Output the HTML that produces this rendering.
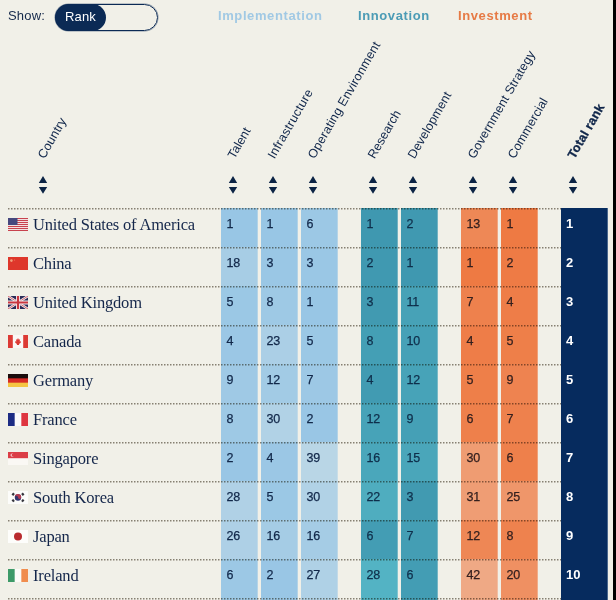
<!DOCTYPE html>
<html><head><meta charset="utf-8"><title>AI Index</title>
<style>
html,body{margin:0;padding:0}
body{width:616px;height:600px;overflow:hidden;background:#f1f0e8;position:relative;font-family:"Liberation Sans",sans-serif;color:#0b2a55}
.edge{position:absolute;left:613px;top:0;width:3px;height:600px;background:#000}
.show{position:absolute;left:8px;top:8px;font-size:13px;line-height:16px;letter-spacing:.2px;color:#15294a}
.toggle{position:absolute;left:55px;top:4px;width:101px;height:25px;border:1px solid #0b2a55;border-radius:14px;box-shadow:0 0 0 .5px rgba(11,42,85,.45)}
.pill{position:absolute;left:55px;top:4px;width:51px;height:27px;border-radius:13.5px;background:#0b2a55;color:#fff;font-size:13px;line-height:26px;text-align:center;letter-spacing:.2px}
.grp{position:absolute;top:9px;font-size:13px;line-height:14px;font-weight:bold;letter-spacing:.6px}
.hl{position:absolute;white-space:nowrap;color:#10264a;font-size:12.5px;line-height:14px;transform-origin:0 100%;transform:rotate(-60deg)}
.sort{position:absolute;width:8px;height:18px;overflow:visible}
.cell{position:absolute;width:37px;font-size:12.5px;line-height:16px;letter-spacing:-.3px}
.cell span{position:absolute;left:5.5px;top:8px;-webkit-text-stroke:.25px #0b2a55}
.flag{position:absolute;left:8px;width:20px;height:13px;overflow:hidden}
.flag svg{display:block;width:20px;height:13px}
.name{position:absolute;left:33px;font-family:"Liberation Serif",serif;font-size:16.5px;line-height:20px;white-space:nowrap;color:#14264a;letter-spacing:-.18px}
.tot{position:absolute;left:561px;width:47px;background:linear-gradient(90deg,#062b5e 46px,#4a678d 46px);color:#fff;font-weight:bold;font-size:13px;line-height:16px}
.tot span{position:absolute;left:5px;top:8px}
.dl{position:absolute;left:8px;width:553px;height:1px;mix-blend-mode:multiply;background:repeating-linear-gradient(90deg,#8d887e 0 1px,#c9c5bd 1px 2px,#fff 2px 3px)}
</style></head><body>
<div class="show">Show:</div>
<div class="toggle"></div><div class="pill">Rank</div>
<div class="grp" style="left:218px;color:#a1c9e4">Implementation</div>
<div class="grp" style="left:358px;color:#4b9bb5">Innovation</div>
<div class="grp" style="left:458px;color:#e67a45">Investment</div>

<div class="hl" style="left:47px;top:147px;letter-spacing:0.15px;">Country</div>
<svg class="sort" style="left:39px;top:176px" viewBox="0 0 8 18"><path d="M4 0L8.2 7H-.2zM4 17.8L-.2 11H8.2z" fill="#0c2445"/></svg>
<div class="hl" style="left:237px;top:147px;letter-spacing:0.00px;">Talent</div>
<svg class="sort" style="left:229px;top:176px" viewBox="0 0 8 18"><path d="M4 0L8.2 7H-.2zM4 17.8L-.2 11H8.2z" fill="#0c2445"/></svg>
<div class="hl" style="left:277px;top:147px;letter-spacing:0.32px;">Infrastructure</div>
<svg class="sort" style="left:269px;top:176px" viewBox="0 0 8 18"><path d="M4 0L8.2 7H-.2zM4 17.8L-.2 11H8.2z" fill="#0c2445"/></svg>
<div class="hl" style="left:317px;top:147px;letter-spacing:0.20px;">Operating Environment</div>
<svg class="sort" style="left:309px;top:176px" viewBox="0 0 8 18"><path d="M4 0L8.2 7H-.2zM4 17.8L-.2 11H8.2z" fill="#0c2445"/></svg>
<div class="hl" style="left:377px;top:147px;letter-spacing:0.00px;">Research</div>
<svg class="sort" style="left:369px;top:176px" viewBox="0 0 8 18"><path d="M4 0L8.2 7H-.2zM4 17.8L-.2 11H8.2z" fill="#0c2445"/></svg>
<div class="hl" style="left:417px;top:147px;letter-spacing:0.10px;">Development</div>
<svg class="sort" style="left:409px;top:176px" viewBox="0 0 8 18"><path d="M4 0L8.2 7H-.2zM4 17.8L-.2 11H8.2z" fill="#0c2445"/></svg>
<div class="hl" style="left:477px;top:147px;letter-spacing:0.17px;">Government Strategy</div>
<svg class="sort" style="left:469px;top:176px" viewBox="0 0 8 18"><path d="M4 0L8.2 7H-.2zM4 17.8L-.2 11H8.2z" fill="#0c2445"/></svg>
<div class="hl" style="left:517px;top:147px;letter-spacing:0.10px;">Commercial</div>
<svg class="sort" style="left:509px;top:176px" viewBox="0 0 8 18"><path d="M4 0L8.2 7H-.2zM4 17.8L-.2 11H8.2z" fill="#0c2445"/></svg>
<div class="hl" style="left:577px;top:147px;letter-spacing:0.20px;font-weight:bold;-webkit-text-stroke:.3px #10264a;">Total rank</div>
<svg class="sort" style="left:569px;top:176px" viewBox="0 0 8 18"><path d="M4 0L8.2 7H-.2zM4 17.8L-.2 11H8.2z" fill="#0c2445"/></svg>
<div class="cell" style="left:221px;top:208px;height:39px;background:linear-gradient(90deg,#98c6e5 36px,#b3d3e6 36px)"><span style="color:#12284a;-webkit-text-stroke-color:#12284a">1</span></div>
<div class="cell" style="left:261px;top:208px;height:39px;background:linear-gradient(90deg,#98c6e5 36px,#b3d3e6 36px)"><span style="color:#12284a;-webkit-text-stroke-color:#12284a">1</span></div>
<div class="cell" style="left:301px;top:208px;height:39px;background:linear-gradient(90deg,#9cc8e5 36px,#b6d4e6 36px)"><span style="color:#12284a;-webkit-text-stroke-color:#12284a">6</span></div>
<div class="cell" style="left:361px;top:208px;height:39px;background:linear-gradient(90deg,#3f98b0 36px,#74b2c1 36px)"><span style="color:#0f2f4b;-webkit-text-stroke-color:#0f2f4b">1</span></div>
<div class="cell" style="left:401px;top:208px;height:39px;background:linear-gradient(90deg,#4099b1 36px,#75b3c2 36px)"><span style="color:#0f2f4b;-webkit-text-stroke-color:#0f2f4b">2</span></div>
<div class="cell" style="left:461px;top:208px;height:39px;background:linear-gradient(90deg,#ee8856 36px,#efa782 36px)"><span style="color:#34201f;-webkit-text-stroke-color:#34201f">13</span></div>
<div class="cell" style="left:501px;top:208px;height:39px;background:linear-gradient(90deg,#ee7a43 36px,#ef9d74 36px)"><span style="color:#34201f;-webkit-text-stroke-color:#34201f">1</span></div>
<div class="tot" style="top:208px;height:39px"><span>1</span></div>
<div class="flag" style="top:218px"><svg viewBox="0 0 20 13"><rect width="20" height="13" fill="#f3dfe0"/><g fill="#c8424e"><rect y="0" width="20" height="1"/><rect y="2" width="20" height="1"/><rect y="4" width="20" height="1"/><rect y="6" width="20" height="1"/><rect y="8" width="20" height="1"/><rect y="10" width="20" height="1"/><rect y="12" width="20" height="1"/></g><rect width="9.5" height="7" fill="#46477e"/></svg></div>
<div class="name" style="top:215px">United States of America</div>
<div class="cell" style="left:221px;top:247px;height:39px;background:linear-gradient(90deg,#a7cde5 36px,#bdd8e6 36px)"><span style="color:#12284a;-webkit-text-stroke-color:#12284a">18</span></div>
<div class="cell" style="left:261px;top:247px;height:39px;background:linear-gradient(90deg,#9ac7e5 36px,#b4d3e6 36px)"><span style="color:#12284a;-webkit-text-stroke-color:#12284a">3</span></div>
<div class="cell" style="left:301px;top:247px;height:39px;background:linear-gradient(90deg,#9ac7e5 36px,#b4d3e6 36px)"><span style="color:#12284a;-webkit-text-stroke-color:#12284a">3</span></div>
<div class="cell" style="left:361px;top:247px;height:39px;background:linear-gradient(90deg,#4099b1 36px,#75b3c2 36px)"><span style="color:#0f2f4b;-webkit-text-stroke-color:#0f2f4b">2</span></div>
<div class="cell" style="left:401px;top:247px;height:39px;background:linear-gradient(90deg,#3f98b0 36px,#74b2c1 36px)"><span style="color:#0f2f4b;-webkit-text-stroke-color:#0f2f4b">1</span></div>
<div class="cell" style="left:461px;top:247px;height:39px;background:linear-gradient(90deg,#ee7a43 36px,#ef9d74 36px)"><span style="color:#34201f;-webkit-text-stroke-color:#34201f">1</span></div>
<div class="cell" style="left:501px;top:247px;height:39px;background:linear-gradient(90deg,#ee7b45 36px,#ef9e76 36px)"><span style="color:#34201f;-webkit-text-stroke-color:#34201f">2</span></div>
<div class="tot" style="top:247px;height:39px"><span>2</span></div>
<div class="flag" style="top:257px"><svg viewBox="0 0 20 13"><rect width="20" height="13" fill="#de372b"/><circle cx="3.4" cy="3.6" r="1.3" fill="#f2a27c"/><circle cx="6.6" cy="3" r=".5" fill="#ee8f6a"/></svg></div>
<div class="name" style="top:254px">China</div>
<div class="cell" style="left:221px;top:286px;height:39px;background:linear-gradient(90deg,#9bc8e5 36px,#b5d4e6 36px)"><span style="color:#12284a;-webkit-text-stroke-color:#12284a">5</span></div>
<div class="cell" style="left:261px;top:286px;height:39px;background:linear-gradient(90deg,#9ec9e5 36px,#b7d5e6 36px)"><span style="color:#12284a;-webkit-text-stroke-color:#12284a">8</span></div>
<div class="cell" style="left:301px;top:286px;height:39px;background:linear-gradient(90deg,#98c6e5 36px,#b3d3e6 36px)"><span style="color:#12284a;-webkit-text-stroke-color:#12284a">1</span></div>
<div class="cell" style="left:361px;top:286px;height:39px;background:linear-gradient(90deg,#419ab1 36px,#76b4c2 36px)"><span style="color:#0f2f4b;-webkit-text-stroke-color:#0f2f4b">3</span></div>
<div class="cell" style="left:401px;top:286px;height:39px;background:linear-gradient(90deg,#47a2b7 36px,#7ab9c6 36px)"><span style="color:#0f2f4b;-webkit-text-stroke-color:#0f2f4b">11</span></div>
<div class="cell" style="left:461px;top:286px;height:39px;background:linear-gradient(90deg,#ee814d 36px,#efa27c 36px)"><span style="color:#34201f;-webkit-text-stroke-color:#34201f">7</span></div>
<div class="cell" style="left:501px;top:286px;height:39px;background:linear-gradient(90deg,#ee7d48 36px,#efa078 36px)"><span style="color:#34201f;-webkit-text-stroke-color:#34201f">4</span></div>
<div class="tot" style="top:286px;height:39px"><span>3</span></div>
<div class="flag" style="top:296px"><svg viewBox="0 0 20 13"><rect width="20" height="13" fill="#2a2c58"/><path d="M0 0L20 13M20 0L0 13" stroke="#f4eef0" stroke-width="2.4"/><path d="M0 0L20 13M20 0L0 13" stroke="#c8404a" stroke-width="0.8"/><path d="M10 0V13M0 6.5H20" stroke="#f4eef0" stroke-width="4"/><path d="M10 0V13M0 6.5H20" stroke="#c8353f" stroke-width="2.2"/></svg></div>
<div class="name" style="top:293px">United Kingdom</div>
<div class="cell" style="left:221px;top:325px;height:39px;background:linear-gradient(90deg,#9bc7e5 36px,#b5d3e6 36px)"><span style="color:#12284a;-webkit-text-stroke-color:#12284a">4</span></div>
<div class="cell" style="left:261px;top:325px;height:39px;background:linear-gradient(90deg,#abcfe6 36px,#c0d9e7 36px)"><span style="color:#12284a;-webkit-text-stroke-color:#12284a">23</span></div>
<div class="cell" style="left:301px;top:325px;height:39px;background:linear-gradient(90deg,#9bc8e5 36px,#b5d4e6 36px)"><span style="color:#12284a;-webkit-text-stroke-color:#12284a">5</span></div>
<div class="cell" style="left:361px;top:325px;height:39px;background:linear-gradient(90deg,#449fb5 36px,#78b7c4 36px)"><span style="color:#0f2f4b;-webkit-text-stroke-color:#0f2f4b">8</span></div>
<div class="cell" style="left:401px;top:325px;height:39px;background:linear-gradient(90deg,#46a1b7 36px,#79b9c6 36px)"><span style="color:#0f2f4b;-webkit-text-stroke-color:#0f2f4b">10</span></div>
<div class="cell" style="left:461px;top:325px;height:39px;background:linear-gradient(90deg,#ee7d48 36px,#efa078 36px)"><span style="color:#34201f;-webkit-text-stroke-color:#34201f">4</span></div>
<div class="cell" style="left:501px;top:325px;height:39px;background:linear-gradient(90deg,#ee7f49 36px,#efa179 36px)"><span style="color:#34201f;-webkit-text-stroke-color:#34201f">5</span></div>
<div class="tot" style="top:325px;height:39px"><span>4</span></div>
<div class="flag" style="top:335px"><svg viewBox="0 0 20 13"><rect width="20" height="13" fill="#fbf7f5"/><rect width="4.8" height="13" fill="#dc3a34"/><rect x="15.2" width="4.8" height="13" fill="#dc3a34"/><path d="M10 3l.9 1.7 1.2-.4-.5 2.2 1.3-.4-.4 1.1.6.3-2.1 1.5.2.9h-2.4l.2-.9-2.1-1.5.6-.3-.4-1.1 1.3.4-.5-2.2 1.2.4z" fill="#dc3a34"/></svg></div>
<div class="name" style="top:332px">Canada</div>
<div class="cell" style="left:221px;top:364px;height:39px;background:linear-gradient(90deg,#9fc9e5 36px,#b8d5e6 36px)"><span style="color:#12284a;-webkit-text-stroke-color:#12284a">9</span></div>
<div class="cell" style="left:261px;top:364px;height:39px;background:linear-gradient(90deg,#a2cbe5 36px,#bad6e6 36px)"><span style="color:#12284a;-webkit-text-stroke-color:#12284a">12</span></div>
<div class="cell" style="left:301px;top:364px;height:39px;background:linear-gradient(90deg,#9dc8e5 36px,#b6d4e6 36px)"><span style="color:#12284a;-webkit-text-stroke-color:#12284a">7</span></div>
<div class="cell" style="left:361px;top:364px;height:39px;background:linear-gradient(90deg,#419bb2 36px,#76b4c2 36px)"><span style="color:#0f2f4b;-webkit-text-stroke-color:#0f2f4b">4</span></div>
<div class="cell" style="left:401px;top:364px;height:39px;background:linear-gradient(90deg,#47a3b8 36px,#7abac6 36px)"><span style="color:#0f2f4b;-webkit-text-stroke-color:#0f2f4b">12</span></div>
<div class="cell" style="left:461px;top:364px;height:39px;background:linear-gradient(90deg,#ee7f49 36px,#efa179 36px)"><span style="color:#34201f;-webkit-text-stroke-color:#34201f">5</span></div>
<div class="cell" style="left:501px;top:364px;height:39px;background:linear-gradient(90deg,#ee8350 36px,#efa47e 36px)"><span style="color:#34201f;-webkit-text-stroke-color:#34201f">9</span></div>
<div class="tot" style="top:364px;height:39px"><span>5</span></div>
<div class="flag" style="top:374px"><svg viewBox="0 0 20 13"><rect width="20" height="13" fill="#f5c542"/><rect width="20" height="8.67" fill="#d62a25"/><rect width="20" height="4.33" fill="#1a0c0c"/></svg></div>
<div class="name" style="top:371px">Germany</div>
<div class="cell" style="left:221px;top:403px;height:39px;background:linear-gradient(90deg,#9ec9e5 36px,#b7d5e6 36px)"><span style="color:#12284a;-webkit-text-stroke-color:#12284a">8</span></div>
<div class="cell" style="left:261px;top:403px;height:39px;background:linear-gradient(90deg,#b1d2e6 36px,#c4dbe7 36px)"><span style="color:#12284a;-webkit-text-stroke-color:#12284a">30</span></div>
<div class="cell" style="left:301px;top:403px;height:39px;background:linear-gradient(90deg,#99c6e5 36px,#b3d3e6 36px)"><span style="color:#12284a;-webkit-text-stroke-color:#12284a">2</span></div>
<div class="cell" style="left:361px;top:403px;height:39px;background:linear-gradient(90deg,#47a3b8 36px,#7abac6 36px)"><span style="color:#0f2f4b;-webkit-text-stroke-color:#0f2f4b">12</span></div>
<div class="cell" style="left:401px;top:403px;height:39px;background:linear-gradient(90deg,#45a0b6 36px,#79b8c5 36px)"><span style="color:#0f2f4b;-webkit-text-stroke-color:#0f2f4b">9</span></div>
<div class="cell" style="left:461px;top:403px;height:39px;background:linear-gradient(90deg,#ee804b 36px,#efa27a 36px)"><span style="color:#34201f;-webkit-text-stroke-color:#34201f">6</span></div>
<div class="cell" style="left:501px;top:403px;height:39px;background:linear-gradient(90deg,#ee814d 36px,#efa27c 36px)"><span style="color:#34201f;-webkit-text-stroke-color:#34201f">7</span></div>
<div class="tot" style="top:403px;height:39px"><span>6</span></div>
<div class="flag" style="top:413px"><svg viewBox="0 0 20 13"><rect width="20" height="13" fill="#fcfbfb"/><rect width="6.67" height="13" fill="#1d2c84"/><rect x="13.33" width="6.67" height="13" fill="#de3540"/></svg></div>
<div class="name" style="top:410px">France</div>
<div class="cell" style="left:221px;top:442px;height:39px;background:linear-gradient(90deg,#99c6e5 36px,#b3d3e6 36px)"><span style="color:#12284a;-webkit-text-stroke-color:#12284a">2</span></div>
<div class="cell" style="left:261px;top:442px;height:39px;background:linear-gradient(90deg,#9bc7e5 36px,#b5d3e6 36px)"><span style="color:#12284a;-webkit-text-stroke-color:#12284a">4</span></div>
<div class="cell" style="left:301px;top:442px;height:39px;background:linear-gradient(90deg,#b9d6e6 36px,#cadee7 36px)"><span style="color:#12284a;-webkit-text-stroke-color:#12284a">39</span></div>
<div class="cell" style="left:361px;top:442px;height:39px;background:linear-gradient(90deg,#4aa7bb 36px,#7cbdc8 36px)"><span style="color:#0f2f4b;-webkit-text-stroke-color:#0f2f4b">16</span></div>
<div class="cell" style="left:401px;top:442px;height:39px;background:linear-gradient(90deg,#4aa6ba 36px,#7cbcc8 36px)"><span style="color:#0f2f4b;-webkit-text-stroke-color:#0f2f4b">15</span></div>
<div class="cell" style="left:461px;top:442px;height:39px;background:linear-gradient(90deg,#ef9c72 36px,#f0b595 36px)"><span style="color:#34201f;-webkit-text-stroke-color:#34201f">30</span></div>
<div class="cell" style="left:501px;top:442px;height:39px;background:linear-gradient(90deg,#ee804b 36px,#efa27a 36px)"><span style="color:#34201f;-webkit-text-stroke-color:#34201f">6</span></div>
<div class="tot" style="top:442px;height:39px"><span>7</span></div>
<div class="flag" style="top:452px"><svg viewBox="0 0 20 13"><rect width="20" height="13" fill="#faf8f4"/><rect width="20" height="6.2" fill="#db3d46"/><circle cx="4.2" cy="3.1" r="1.7" fill="#f6d9da"/><circle cx="5" cy="3.1" r="1.4" fill="#db3d46"/></svg></div>
<div class="name" style="top:449px">Singapore</div>
<div class="cell" style="left:221px;top:481px;height:39px;background:linear-gradient(90deg,#b0d1e6 36px,#c4dae7 36px)"><span style="color:#12284a;-webkit-text-stroke-color:#12284a">28</span></div>
<div class="cell" style="left:261px;top:481px;height:39px;background:linear-gradient(90deg,#9bc8e5 36px,#b5d4e6 36px)"><span style="color:#12284a;-webkit-text-stroke-color:#12284a">5</span></div>
<div class="cell" style="left:301px;top:481px;height:39px;background:linear-gradient(90deg,#b1d2e6 36px,#c4dbe7 36px)"><span style="color:#12284a;-webkit-text-stroke-color:#12284a">30</span></div>
<div class="cell" style="left:361px;top:481px;height:39px;background:linear-gradient(90deg,#4fadbf 36px,#80c1cb 36px)"><span style="color:#0f2f4b;-webkit-text-stroke-color:#0f2f4b">22</span></div>
<div class="cell" style="left:401px;top:481px;height:39px;background:linear-gradient(90deg,#419ab1 36px,#76b4c2 36px)"><span style="color:#0f2f4b;-webkit-text-stroke-color:#0f2f4b">3</span></div>
<div class="cell" style="left:461px;top:481px;height:39px;background:linear-gradient(90deg,#ef9d74 36px,#f0b697 36px)"><span style="color:#34201f;-webkit-text-stroke-color:#34201f">31</span></div>
<div class="cell" style="left:501px;top:481px;height:39px;background:linear-gradient(90deg,#ef966a 36px,#f0b190 36px)"><span style="color:#34201f;-webkit-text-stroke-color:#34201f">25</span></div>
<div class="tot" style="top:481px;height:39px"><span>8</span></div>
<div class="flag" style="top:491px"><svg viewBox="0 0 20 13"><rect width="20" height="13" fill="#fcfcfa"/><circle cx="10" cy="6.5" r="3.2" fill="#33376e"/><path d="M6.8 6.3a3.2 3.2 0 0 1 6.4 0a1.6 1.6 0 0 1-3.2 0a1.6 1.6 0 0 0-3.2 0z" fill="#b23a52"/><g stroke="#35353d" stroke-width="2.2"><path d="M4.4 4.2l1.6-2M14 2.2l1.6 2M4.4 8.6l1.6 2M14 10.6l1.6-2"/></g></svg></div>
<div class="name" style="top:488px">South Korea</div>
<div class="cell" style="left:221px;top:520px;height:39px;background:linear-gradient(90deg,#aed0e6 36px,#c2dae7 36px)"><span style="color:#12284a;-webkit-text-stroke-color:#12284a">26</span></div>
<div class="cell" style="left:261px;top:520px;height:39px;background:linear-gradient(90deg,#a5cce5 36px,#bcd7e6 36px)"><span style="color:#12284a;-webkit-text-stroke-color:#12284a">16</span></div>
<div class="cell" style="left:301px;top:520px;height:39px;background:linear-gradient(90deg,#a5cce5 36px,#bcd7e6 36px)"><span style="color:#12284a;-webkit-text-stroke-color:#12284a">16</span></div>
<div class="cell" style="left:361px;top:520px;height:39px;background:linear-gradient(90deg,#439db4 36px,#77b6c4 36px)"><span style="color:#0f2f4b;-webkit-text-stroke-color:#0f2f4b">6</span></div>
<div class="cell" style="left:401px;top:520px;height:39px;background:linear-gradient(90deg,#449eb4 36px,#78b7c4 36px)"><span style="color:#0f2f4b;-webkit-text-stroke-color:#0f2f4b">7</span></div>
<div class="cell" style="left:461px;top:520px;height:39px;background:linear-gradient(90deg,#ee8755 36px,#efa681 36px)"><span style="color:#34201f;-webkit-text-stroke-color:#34201f">12</span></div>
<div class="cell" style="left:501px;top:520px;height:39px;background:linear-gradient(90deg,#ee824e 36px,#efa37c 36px)"><span style="color:#34201f;-webkit-text-stroke-color:#34201f">8</span></div>
<div class="tot" style="top:520px;height:39px"><span>9</span></div>
<div class="flag" style="top:530px"><svg viewBox="0 0 20 13"><rect width="20" height="13" fill="#fdfdfb"/><circle cx="10" cy="6.5" r="4" fill="#b92b2f"/></svg></div>
<div class="name" style="top:527px">Japan</div>
<div class="cell" style="left:221px;top:559px;height:41px;background:linear-gradient(90deg,#9cc8e5 36px,#b6d4e6 36px)"><span style="color:#12284a;-webkit-text-stroke-color:#12284a">6</span></div>
<div class="cell" style="left:261px;top:559px;height:41px;background:linear-gradient(90deg,#99c6e5 36px,#b3d3e6 36px)"><span style="color:#12284a;-webkit-text-stroke-color:#12284a">2</span></div>
<div class="cell" style="left:301px;top:559px;height:41px;background:linear-gradient(90deg,#afd1e6 36px,#c3dae7 36px)"><span style="color:#12284a;-webkit-text-stroke-color:#12284a">27</span></div>
<div class="cell" style="left:361px;top:559px;height:41px;background:linear-gradient(90deg,#53b3c4 36px,#82c5cf 36px)"><span style="color:#0f2f4b;-webkit-text-stroke-color:#0f2f4b">28</span></div>
<div class="cell" style="left:401px;top:559px;height:41px;background:linear-gradient(90deg,#439db4 36px,#77b6c4 36px)"><span style="color:#0f2f4b;-webkit-text-stroke-color:#0f2f4b">6</span></div>
<div class="cell" style="left:461px;top:559px;height:41px;background:linear-gradient(90deg,#efa985 36px,#f0bea3 36px)"><span style="color:#34201f;-webkit-text-stroke-color:#34201f">42</span></div>
<div class="cell" style="left:501px;top:559px;height:41px;background:linear-gradient(90deg,#ef9062 36px,#f0ad8a 36px)"><span style="color:#34201f;-webkit-text-stroke-color:#34201f">20</span></div>
<div class="tot" style="top:559px;height:41px"><span>10</span></div>
<div class="flag" style="top:569px"><svg viewBox="0 0 20 13"><rect width="20" height="13" fill="#fcfcf8"/><rect width="6.67" height="13" fill="#3d9a68"/><rect x="13.33" width="6.67" height="13" fill="#f08d4e"/></svg></div>
<div class="name" style="top:566px">Ireland</div>
<div class="dl" style="top:208px;opacity:1.00"></div>
<div class="dl" style="top:209px;opacity:0.50"></div>
<div class="dl" style="top:247px;opacity:1.00"></div>
<div class="dl" style="top:248px;opacity:0.50"></div>
<div class="dl" style="top:286px;opacity:1.00"></div>
<div class="dl" style="top:287px;opacity:0.50"></div>
<div class="dl" style="top:325px;opacity:1.00"></div>
<div class="dl" style="top:326px;opacity:0.50"></div>
<div class="dl" style="top:364px;opacity:1.00"></div>
<div class="dl" style="top:365px;opacity:0.50"></div>
<div class="dl" style="top:403px;opacity:1.00"></div>
<div class="dl" style="top:404px;opacity:0.50"></div>
<div class="dl" style="top:442px;opacity:1.00"></div>
<div class="dl" style="top:443px;opacity:0.50"></div>
<div class="dl" style="top:481px;opacity:1.00"></div>
<div class="dl" style="top:482px;opacity:0.50"></div>
<div class="dl" style="top:520px;opacity:1.00"></div>
<div class="dl" style="top:521px;opacity:0.50"></div>
<div class="dl" style="top:559px;opacity:1.00"></div>
<div class="dl" style="top:560px;opacity:0.50"></div>
<div class="dl" style="top:598px;opacity:1.00"></div>
<div class="dl" style="top:599px;opacity:0.50"></div>
<div class="edge"></div>
</body></html>
